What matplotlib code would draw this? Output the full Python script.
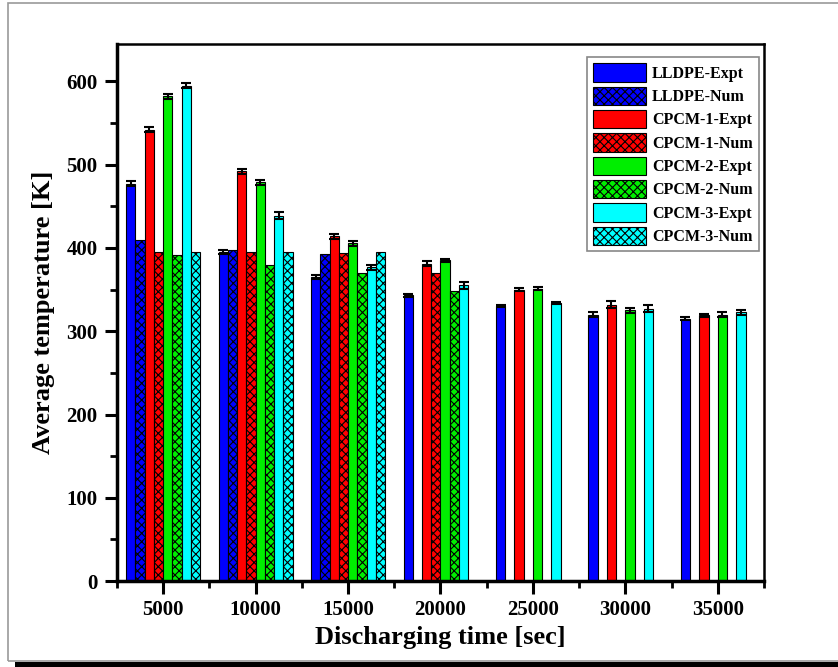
import numpy as np
import matplotlib
matplotlib.use("Agg")
import matplotlib.pyplot as plt
from matplotlib.patches import Rectangle
from matplotlib.ticker import MultipleLocator

# discharging time groups [sec]
times = [5000, 10000, 15000, 20000, 25000, 30000, 35000]

# average temperature [K] per series, None = not available
lldpe_expt = [477, 395, 365, 343, 330, 320, 315]
lldpe_num = [410, 398, 393, None, None, None, None]
cpcm1_expt = [542, 492, 414, 381, 350, 332, 319]
cpcm1_num = [395, 395, 394, 370, None, None, None]
cpcm2_expt = [582, 479, 406, 385, 351, 325, 320]
cpcm2_num = [391, 380, 370, 348, None, None, None]
cpcm3_expt = [595, 439, 377, 355, 334, 327, 323]
cpcm3_num = [395, 395, 395, None, None, None, None]

# experimental error bars
lldpe_err = [3, 2, 2, 2, 1, 3, 2]
cpcm1_err = [3, 3, 3, 3, 2, 4, 2]
cpcm2_err = [3, 3, 3, 2, 2, 3, 3]
cpcm3_err = [3, 4, 3, 4, 1, 4, 3]

series = [
    ("LLDPE-Expt", lldpe_expt, lldpe_err, "#0000ff", None),
    ("LLDPE-Num", lldpe_num, None, "#0000ff", "xxxx"),
    ("CPCM-1-Expt", cpcm1_expt, cpcm1_err, "#ff0000", None),
    ("CPCM-1-Num", cpcm1_num, None, "#ff0000", "xxxx"),
    ("CPCM-2-Expt", cpcm2_expt, cpcm2_err, "#00ee00", None),
    ("CPCM-2-Num", cpcm2_num, None, "#00ee00", "xxxx"),
    ("CPCM-3-Expt", cpcm3_expt, cpcm3_err, "#00ffff", None),
    ("CPCM-3-Num", cpcm3_num, None, "#00ffff", "xxxx"),
]

plt.rcParams["font.family"] = ["Liberation Serif", "DejaVu Serif"]
plt.rcParams["font.weight"] = "bold"
plt.rcParams["hatch.linewidth"] = 0.8

fig = plt.figure(figsize=(8.38, 6.67), dpi=100)
# page frame
fig.patches.append(Rectangle((0.009, 0.009), 1.2, 0.987, transform=fig.transFigure,
                             fill=False, edgecolor="#999999", lw=1.2))
fig.patches.append(Rectangle((0.018, 0.0), 1.0, 0.008, transform=fig.transFigure,
                             facecolor="black", edgecolor="none"))

ax = fig.add_axes([0.1396, 0.1289, 0.7721, 0.8051])
w = 500
for i, (name, vals, err, col, hatch) in enumerate(series):
    xs = [t + (i - 3.5) * w for t, v in zip(times, vals) if v is not None]
    ys = [v for v in vals if v is not None]
    ax.bar(xs, ys, width=w, color=col, edgecolor="black", linewidth=0.8,
           hatch=hatch, label=name, zorder=2)
    if err is not None:
        ax.errorbar(xs, ys, yerr=err, fmt="none", ecolor="black",
                    elinewidth=1.5, capsize=3.5, capthick=1.5, zorder=3)

ax.set_xlim(2500, 37500)
ax.set_ylim(0, 645)
ax.xaxis.set_minor_locator(MultipleLocator(2500))
ax.yaxis.set_major_locator(MultipleLocator(100))
ax.yaxis.set_minor_locator(MultipleLocator(50))
ax.set_xticks(times)
ax.tick_params(which="major", direction="out", length=9, width=2.2, labelsize=15, pad=5)
ax.tick_params(which="minor", direction="out", length=5, width=2)
ax.tick_params(top=False, right=False, which="both")
for s in ["left", "bottom"]:
    ax.spines[s].set_linewidth(2.5)
for s in ["top", "right"]:
    ax.spines[s].set_linewidth(1.8)

ax.set_xlabel("Discharging time [sec]", fontsize=19, fontweight="bold", labelpad=4)
ax.set_ylabel("Average temperature [K]", fontsize=19, fontweight="bold", labelpad=8)

leg = ax.legend(loc="upper right", bbox_to_anchor=(1.0, 0.985), borderaxespad=0.3,
                fontsize=11.5, handlelength=3.3, handleheight=1.4, labelspacing=0.3,
                handletextpad=0.4, borderpad=0.4, fancybox=False, framealpha=1)
leg.get_frame().set_edgecolor("#888888")
leg.get_frame().set_linewidth(1.2)

fig.savefig("out.png", dpi=100)
